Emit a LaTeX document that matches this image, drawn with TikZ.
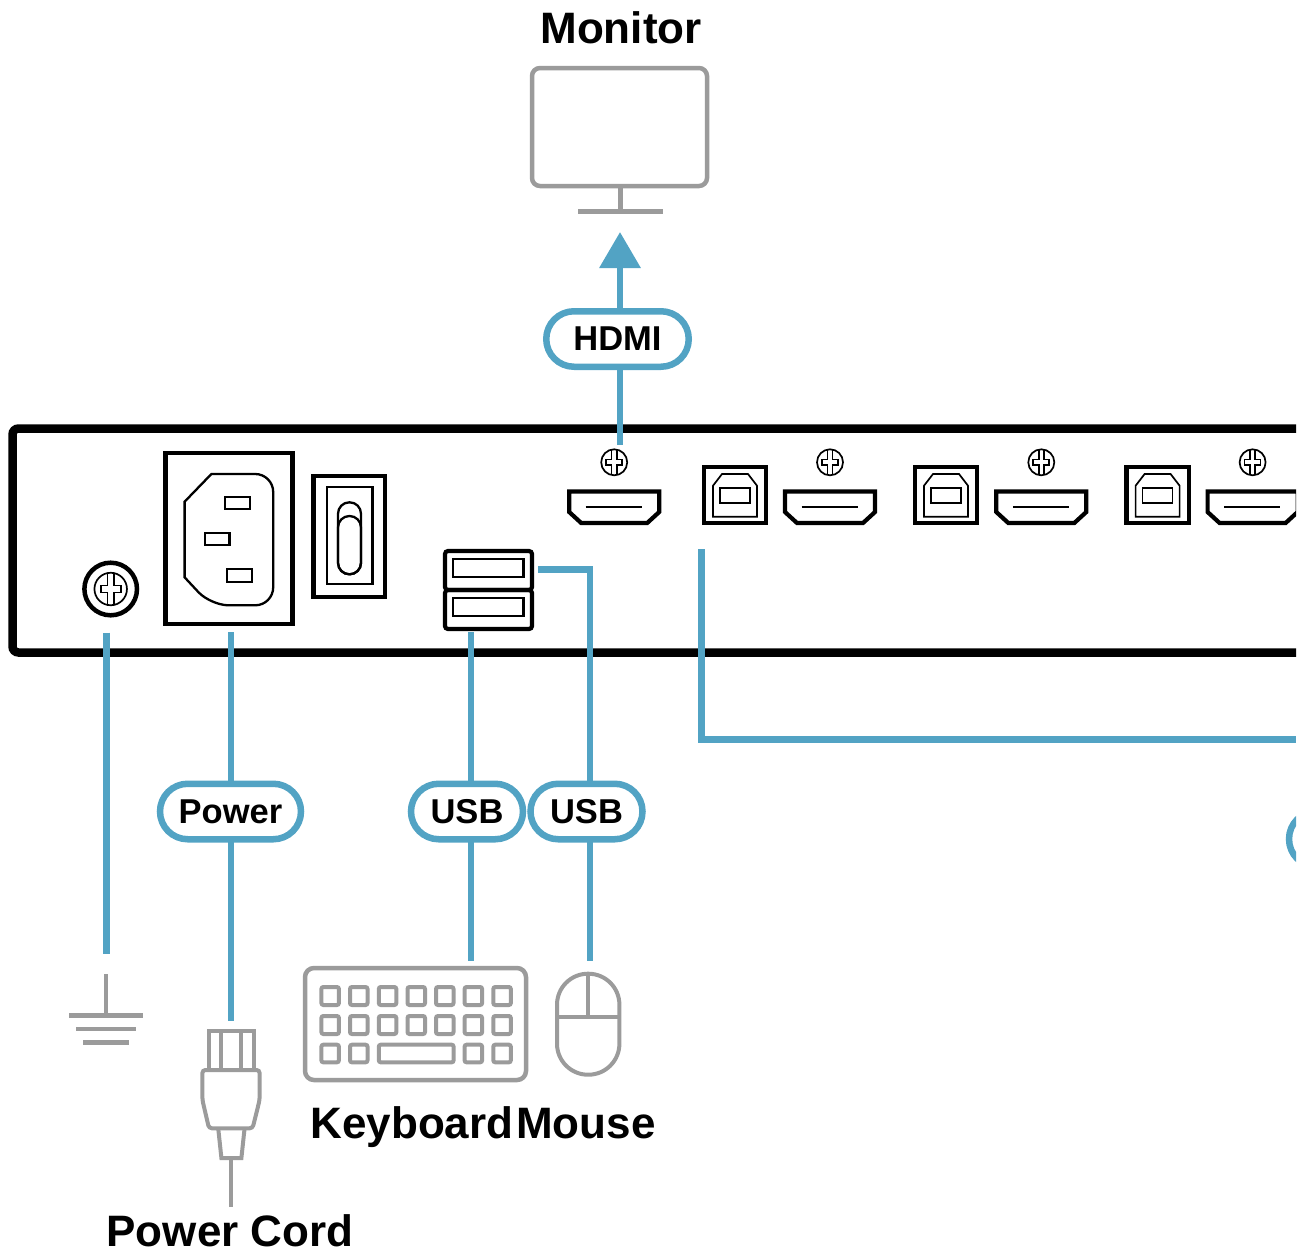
\documentclass[tikz,border=0pt]{standalone}
\usepackage{fontspec}
\setmainfont{Liberation Sans}
\usetikzlibrary{arrows.meta,shapes.misc,positioning}
\definecolor{cable}{HTML}{52A3C4}
\definecolor{device}{HTML}{9B9B9B}
\tikzset{>={Triangle[width=40pt,length=36pt]}}
\tikzset{wire/.style={draw=cable, line width=6.5pt}}
\tikzset{pill/.style={shape=rounded rectangle, draw=cable, fill=white, line width=6.5pt,
    inner sep=0pt, outer sep=0pt, minimum height=55.5pt, font=\bfseries\fontsize{34.5}{40}\selectfont}}
\tikzset{heading/.style={anchor=base, inner sep=0pt, font=\bfseries\fontsize{44}{50}\selectfont}}
\tikzset{outline/.style={draw=device, line width=4.5pt}}
\tikzset{frame/.style={draw=black, line width=4.2pt}}
\tikzset{fine/.style={draw=black, line width=2.3pt}}
\tikzset{hair/.style={draw=black, line width=1.7pt}}
\tikzset{pics/screwhead/.style={code={
    \draw[hair] (0,0) circle (13);
    \draw[hair] (-2.6,-12.8) -- (-2.6,-2.8) -- (-8,-2.8) -- (-8,2.8) -- (-2.6,2.8) -- (-2.6,12.8);
    \draw[hair] (2.6,-12.8) -- (2.6,-2.8) -- (8,-2.8) -- (8,2.8) -- (2.6,2.8) -- (2.6,12.8);
}}}
\tikzset{pics/hdmisock/.style={code={
    \draw[frame, line join=miter] (-45,-15.5) -- (45,-15.5) -- (45,5) -- (33,16) -- (-33,16) -- (-45,5) -- cycle;
    \draw[fine] (-28.5,0) -- (27.5,0);
    \pic at (0,-44.7) {screwhead};
}}}
\tikzset{pics/usbbsock/.style={code={
    \draw[frame] (-31.2,-28) rectangle (31.2,28);
    \draw[hair] (-22,-9.6) -- (-13,-21.3) -- (13,-21.3) -- (22,-9.6) -- (22,21.4) -- (-22,21.4) -- cycle;
    \draw[hair] (-15,-7.6) rectangle (15,7.4);
}}}

\begin{document}
\begin{tikzpicture}[x=1pt, y=-1pt]
    \useasboundingbox (0,0) rectangle (1309,1256);
    \begin{scope}
    \clip (0,0) rectangle (1296,1256);

    %%%% Panel
    \draw [draw=black, line width=8.5pt, rounded corners=6pt] (1296,428.5) -- (12.5,428.5) -- (12.5,652.5) -- (1296,652.5);

    %%%% Earth screw
    \draw [draw=black, line width=4.5pt] (110.7,589) circle (26.3);
    \pic [scale=1.25] at (110.7,589) {screwhead};

    %%%% Power inlet
    \node[frame, minimum width=127pt, minimum height=171pt, inner sep=0pt] (inlet) at (229,538.5) {};
    \draw [fine] (184.6,501.7) -- (211.4,474) {[rounded corners=18pt] -- (273.2,474) -- (273.2,605.3) -- (210.7,605.3)} -- (184.6,577.3) -- cycle;
    \draw [fine] (225,496.7) rectangle (250,509.3);
    \draw [fine] (205,532.7) rectangle (229.6,545);
    \draw [fine] (227,569) rectangle (252,581.7);

    %%%% Power switch
    \node[frame, minimum width=71.5pt, minimum height=120.5pt, inner sep=0pt] (switch) at (349.2,536.6) {};
    \draw [fine] (327,487) rectangle (372.5,584.3);
    \draw [fine, rounded corners=11.4pt] (338,502.3) rectangle (361,574.3);
    \draw [fine, rounded corners=11.4pt] (338,516) rectangle (361,574.3);

    %%%% USB pair
    \draw [frame, rounded corners=3pt] (445,551) rectangle (532,590);
    \draw [frame, rounded corners=3pt] (445,590) rectangle (532,629);
    \draw [fine] (453,559) rectangle (523.6,577.3);
    \draw [fine] (453,597.7) rectangle (523.6,616);

    %%%% Video and KVM sockets
    \pic at (614.2,507) {hdmisock};
    \pic at (830,507) {hdmisock};
    \pic at (1041.3,507) {hdmisock};
    \pic at (1252.6,507) {hdmisock};
    \pic at (735,495.3) {usbbsock};
    \pic at (946,495.3) {usbbsock};
    \pic at (1157.6,495.3) {usbbsock};

    %%%% Cable labels
    \node[pill, minimum width=142.5pt] (pillHdmi) at (617.5,339) {HDMI};
    \node[pill, minimum width=141pt] (pillPower) at (230.5,811.5) {Power};
    \node[pill, minimum width=112pt] (pillUsbA) at (467,811.5) {USB};
    \node[pill, minimum width=112pt] (pillUsbB) [right=7.5pt of pillUsbA] {USB};
    \node[pill, minimum width=120pt] (pillMore) at (1349,839) {};

    %%%% Cable ends
    \coordinate (hdmiOut) at (620,445);
    \coordinate (monitorIn) at (620,232);
    \coordinate (earthOut) at (106.4,632.5);
    \coordinate (earthIn) at (106.4,954);
    \coordinate (powerOut) at (231,632);
    \coordinate (powerIn) at (231,1021);
    \coordinate (keyboardOut) at (471,632);
    \coordinate (keyboardIn) at (471,961);
    \coordinate (mouseOut) at (538,569.5);
    \coordinate (mouseIn) at (590,961);
    \coordinate (chainOut) at (701.5,549);
    \coordinate (chainEnd) at (1296,739.5);

    %%%% Cables
    \draw [wire, ->] (pillHdmi.north -| monitorIn) to (monitorIn);
    \draw [wire] (hdmiOut) to (hdmiOut |- pillHdmi.south);
    \draw [wire] (earthOut) to (earthIn);
    \draw [wire] (powerOut) to (powerOut |- pillPower.north);
    \draw [wire] (powerIn |- pillPower.south) to (powerIn);
    \draw [wire] (keyboardOut) to (keyboardOut |- pillUsbA.north);
    \draw [wire] (keyboardIn |- pillUsbA.south) to (keyboardIn);
    \draw [wire] (mouseOut) -| (mouseIn |- pillUsbB.north);
    \draw [wire] (mouseIn |- pillUsbB.south) to (mouseIn);
    \draw [wire] (chainOut) |- (chainEnd);

    %%%% Monitor
    \node[heading] (monitorName) at (621,43) {Monitor};
    \draw [outline, rounded corners=8pt] (532,68) rectangle (707,186);
    \draw [outline] (620.3,186) -- (620.3,211.3);
    \draw [outline] (578.3,211.3) -- (662.7,211.3);

    %%%% Earth symbol
    \draw [outline] (105.9,974) -- (105.9,1015.3);
    \draw [outline] (69,1015.3) -- (143,1015.3);
    \draw [outline] (76,1029) -- (136,1029);
    \draw [outline] (83,1042.7) -- (129,1042.7);

    %%%% Power plug
    \draw [outline, line width=4pt] (209,1069) -- (209,1031) -- (253.5,1031) -- (253.5,1069);
    \draw [outline, line width=4pt] (221,1031) -- (221,1069);
    \draw [outline, line width=4pt] (240.6,1031) -- (240.6,1069);
    \draw [outline, line width=4pt, rounded corners=3pt] (202.4,1070) -- (202.4,1100) -- (209,1128.3) -- (252.6,1128.3) -- (259.6,1100) -- (259.6,1070) -- cycle;
    \draw [outline, line width=4pt] (218.4,1130) -- (221.4,1158) -- (241.4,1158) -- (244.4,1130);
    \draw [outline, line width=4pt] (231,1158) -- (231,1206.7);
    \node[heading] (cordName) at (230,1246.7) {Power Cord};

    %%%% Keyboard
    \draw [outline, rounded corners=9pt] (305,968) rectangle (526,1080);
    \draw [outline, line width=4pt, rounded corners=2pt]
      (321.4,987) rectangle +(17.5,18) (350,987) rectangle +(17.5,18) (378.8,987) rectangle +(17.5,18)
      (407.5,987) rectangle +(17.5,18) (436,987) rectangle +(17.5,18) (464.6,987) rectangle +(17.5,18) (493.3,987) rectangle +(17.5,18)
      (321.4,1016) rectangle +(17.5,18) (350,1016) rectangle +(17.5,18) (378.8,1016) rectangle +(17.5,18)
      (407.5,1016) rectangle +(17.5,18) (436,1016) rectangle +(17.5,18) (464.6,1016) rectangle +(17.5,18) (493.3,1016) rectangle +(17.5,18)
      (321.4,1044.7) rectangle +(17.5,17.6) (350,1044.7) rectangle +(17.5,17.6) (378.8,1044.7) rectangle (453.6,1062.3)
      (464.6,1044.7) rectangle +(17.5,17.6) (493.3,1044.7) rectangle +(17.5,17.6);
    \node[heading] (keyboardName) at (412,1138.3) {Keyboard};

    %%%% Mouse
    \draw [outline, line width=4pt, rounded corners=31pt] (557,973.7) rectangle (619.4,1074.7);
    \draw [outline, line width=4pt] (557,1017) -- (619.4,1017);
    \draw [outline, line width=4pt] (588,973.7) -- (588,1017);
    \node[heading] (mouseName) at (586,1138.3) {Mouse};
    \end{scope}
\end{tikzpicture}
\end{document}
